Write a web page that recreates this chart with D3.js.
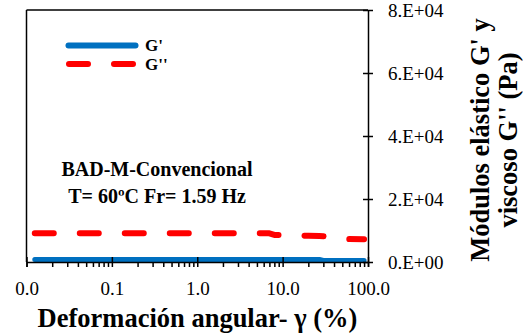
<!DOCTYPE html>
<html>
<head>
<meta charset="utf-8">
<script src="https://cdn.jsdelivr.net/npm/d3@7"></script>
<style>
  body { margin: 0; background: #fff; }
  svg text { font-family: "Liberation Serif", "Times New Roman", serif; fill: #000; }
  .axis path, .axis line { stroke: #000; stroke-width: 1.5; }
</style>
</head>
<body>
<div id="my_dataviz"></div>
<script>
// Data
var strain = [0.0125, 0.02, 0.03, 0.05, 0.08, 0.125, 0.2, 0.3, 0.5, 0.8, 1.25, 2, 3, 5, 7, 8, 12.5, 20, 27, 30, 50, 90];
var gPrime = [800, 800, 800, 800, 800, 800, 800, 800, 800, 800, 800, 800, 800, 800, 800, 800, 800, 800, 800, 500, 500, 500];
var gDoublePrime = [9100, 9100, 9100, 9100, 9100, 9100, 9100, 9100, 9100, 9100, 9100, 9100, 9100, 9100, 9100, 8600, 8500, 8300, 8250, 8200, 7300, 7200];
var xMajorTicks = [0.01, 0.1, 1, 10, 100];
var xTickLabels = ["0.0", "0.1", "1.0", "10.0", "100.0"];
var yTicks = [0, 20000, 40000, 60000, 80000];
var yTickLabels = ["0.E+00", "2.E+04", "4.E+04", "6.E+04", "8.E+04"];
var seriesNames = ["G'", "G''"];
var noteLines = ["BAD-M-Convencional", "T= 60\u00baC Fr= 1.59 Hz"];

// Canvas and plot area (window.top is reserved, so keep edges in an object)
var W = 523, H = 335;
var plot = { left: 26.5, right: 368, top: 10, bottom: 262 };
var svg = d3.select("#my_dataviz")
    .append("svg")
    .attr("width", W)
    .attr("height", H);

var x = d3.scaleLog()
    .domain([0.01, 100])
    .range([plot.left, plot.right]);
var y = d3.scaleLinear()
    .domain([0, 80000])
    .range([plot.bottom, plot.top]);

// minor ticks 2..9 in each decade
var xMinorTicks = [];
xMajorTicks.slice(0, -1).forEach(function (d) {
    for (var k = 2; k <= 9; k++) xMinorTicks.push(d * k);
});

// Series lines
var line = d3.line()
    .x(function (d) { return x(d[0]); })
    .y(function (d) { return y(d[1]); });

svg.append("path")
    .datum(strain.map(function (s, i) { return [s, gDoublePrime[i]]; }))
    .attr("d", line)
    .style("fill", "none")
    .style("stroke", "#FF0000")
    .style("stroke-width", 6)
    .style("stroke-linecap", "round")
    .style("stroke-linejoin", "round")
    .style("stroke-dasharray", "19,26");

svg.append("path")
    .datum(strain.map(function (s, i) { return [s, gPrime[i]]; }))
    .attr("d", line)
    .style("fill", "none")
    .style("stroke", "#0070C0")
    .style("stroke-width", 5)
    .style("stroke-linecap", "round")
    .style("stroke-linejoin", "round");

// Frame: left and top lines
svg.append("line")
    .attr("x1", plot.left).attr("x2", plot.left)
    .attr("y1", plot.top).attr("y2", plot.bottom)
    .style("stroke", "#000").style("stroke-width", 1.5);
svg.append("line")
    .attr("x1", plot.left).attr("x2", plot.right)
    .attr("y1", plot.top).attr("y2", plot.top)
    .style("stroke", "#000").style("stroke-width", 1.5);

// X axis: minor ticks outside, major ticks crossing
var xaxis = d3.axisBottom(x)
    .tickValues(xMajorTicks.concat(xMinorTicks))
    .tickSizeOuter(0)
    .tickSize(5)
    .tickFormat(function (d) {
        var i = xMajorTicks.indexOf(d);
        return i >= 0 ? xTickLabels[i] : "";
    });
var gx = svg.append("g")
    .attr("class", "axis")
    .attr("transform", "translate(0," + plot.bottom + ")")
    .call(xaxis);
gx.selectAll("text")
    .attr("y", 33)
    .attr("dy", 0)
    .style("font-size", "19px");

svg.append("g")
    .attr("class", "axis")
    .attr("transform", "translate(0," + plot.bottom + ")")
    .call(d3.axisTop(x).tickValues(xMajorTicks).tickSize(5).tickSizeOuter(0).tickFormat(""))
    .select(".domain").remove();

// Y axis on the right, ticks crossing the line
var yaxis = d3.axisRight(y)
    .tickValues(yTicks)
    .tickSize(5)
    .tickSizeOuter(0)
    .tickPadding(15)
    .tickFormat(function (d, i) { return yTickLabels[i]; });
var gy = svg.append("g")
    .attr("class", "axis")
    .attr("transform", "translate(" + plot.right + ",0)")
    .call(yaxis);
gy.selectAll("text")
    .style("font-size", "19px");

svg.append("g")
    .attr("class", "axis")
    .attr("transform", "translate(" + plot.right + ",0)")
    .call(d3.axisLeft(y).tickValues(yTicks).tickSize(5).tickSizeOuter(0).tickFormat(""))
    .select(".domain").remove();

// Axis titles
svg.append("text")
    .attr("x", 197.5)
    .attr("y", 327)
    .style("text-anchor", "middle")
    .style("font-size", "26.5px")
    .style("font-weight", "bold")
    .text("Deformación angular- \u03b3 (%)");

var yTitle = ["Módulos elástico G' y", "viscoso G'' (Pa)"];
svg.selectAll(".ytitle")
    .data(yTitle)
    .join("text")
    .attr("class", "ytitle")
    .attr("transform", function (d, i) {
        return "translate(" + (489 + i * 28) + ",140) rotate(-90)";
    })
    .style("text-anchor", "middle")
    .style("font-size", "26.5px")
    .style("font-weight", "bold")
    .text(function (d) { return d; });

// Legend
var legend = svg.append("g");
legend.append("line")
    .attr("x1", 68.5).attr("x2", 135.5)
    .attr("y1", 45.5).attr("y2", 45.5)
    .style("stroke", "#0070C0")
    .style("stroke-width", 6)
    .style("stroke-linecap", "round");
legend.append("line")
    .attr("x1", 69).attr("x2", 133)
    .attr("y1", 64).attr("y2", 64)
    .style("stroke", "#FF0000")
    .style("stroke-width", 6)
    .style("stroke-linecap", "round")
    .style("stroke-dasharray", "19,26");
legend.selectAll("text")
    .data(seriesNames)
    .join("text")
    .attr("x", 145)
    .attr("y", function (d, i) { return 51 + i * 19; })
    .style("font-size", "17px")
    .style("font-weight", "bold")
    .text(function (d) { return d; });

// Sample note
svg.selectAll(".note")
    .data(noteLines)
    .join("text")
    .attr("class", "note")
    .attr("x", 157)
    .attr("y", function (d, i) { return 176 + i * 27; })
    .style("text-anchor", "middle")
    .style("font-size", "20px")
    .style("font-weight", "bold")
    .text(function (d) { return d; });
</script>
</body>
</html>
